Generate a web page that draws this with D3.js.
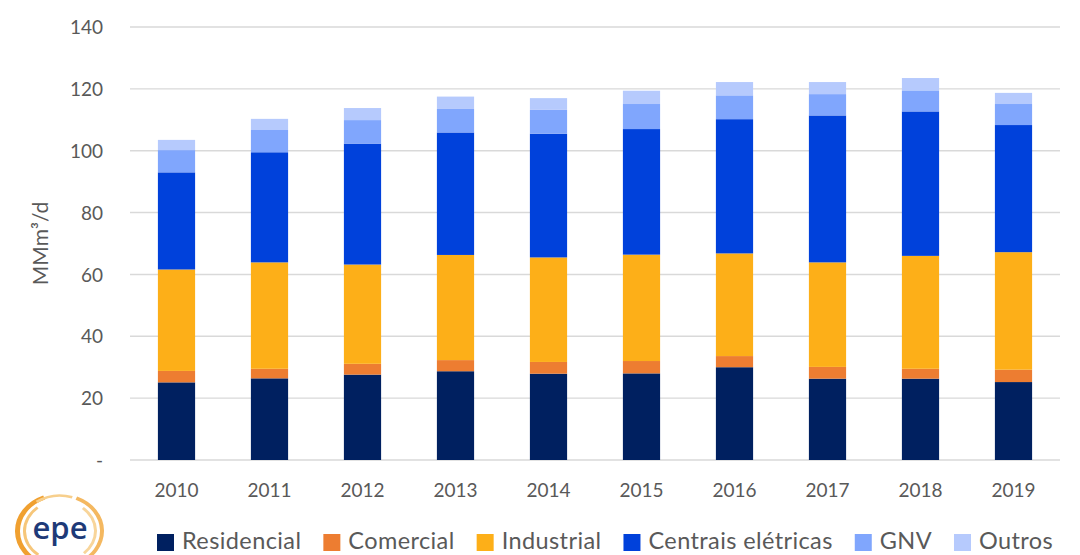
<!DOCTYPE html>
<html>
<head>
<meta charset="utf-8">
<script src="https://cdn.jsdelivr.net/npm/d3@7/dist/d3.min.js"></script>
<style>
  html, body { margin: 0; padding: 0; background: #ffffff; }
  svg { display: block; }
</style>
</head>
<body>
<svg id="chart" width="1080" height="555"></svg>
<script>
// ---------- data ----------
const years = ["2010","2011","2012","2013","2014","2015","2016","2017","2018","2019"];
const seriesNames = ["Residencial","Comercial","Industrial","Centrais elétricas","GNV","Outros"];
const residencial = [25.1, 26.4, 27.6, 28.7, 27.9, 28.0, 30.0, 26.3, 26.3, 25.2];
const comercial   = [ 3.7,  3.1,  3.5,  3.6,  3.8,  4.0,  3.6,  3.8,  3.2,  4.0];
const industrial  = [32.8, 34.4, 32.1, 34.0, 33.8, 34.4, 33.2, 33.8, 36.5, 38.0];
const centrais    = [31.4, 35.6, 39.1, 39.6, 40.0, 40.6, 43.4, 47.5, 46.7, 41.1];
const gnv         = [ 7.2,  7.2,  7.6,  7.6,  7.7,  8.1,  7.7,  6.9,  6.8,  6.8];
const outros      = [ 3.3,  3.6,  3.9,  4.0,  3.8,  4.3,  4.3,  3.9,  4.0,  3.6];
const yTicks = [0, 20, 40, 60, 80, 100, 120, 140];
const yTickLabels = ["-", "20", "40", "60", "80", "100", "120", "140"];
const yTitle = "MMm³/d";
const colors = ["#002060", "#ED7D31", "#FDAF18", "#0041DB", "#80A6FD", "#B6CAFD"];

// ---------- build table ----------
const valueLists = [residencial, comercial, industrial, centrais, gnv, outros];
const table = years.map((yr, i) => {
  const row = { year: yr };
  seriesNames.forEach((s, k) => { row[s] = valueLists[k][i]; });
  return row;
});
const stacked = d3.stack().keys(seriesNames)(table);

// ---------- layout ----------
const svg = d3.select("#chart");
const plotLeft = 130, plotRight = 1060, plotTop = 27, plotBottom = 460;
const font = "Lato, 'Open Sans', sans-serif";
const textColor = "#595959";

const xScale = d3.scaleBand().domain(years).range([plotLeft, plotRight]).paddingInner(0.6).paddingOuter(0.3);
const yScale = d3.scaleLinear().domain([0, 140]).range([plotBottom, plotTop]);

// gridlines
svg.append("g").selectAll("line").data(yTicks).join("line")
  .attr("x1", plotLeft).attr("x2", plotRight)
  .attr("y1", d => yScale(d)).attr("y2", d => yScale(d))
  .attr("stroke", "#D9D9D9").attr("stroke-width", 1.4);

// y axis labels
const yAxis = d3.axisLeft(yScale).tickValues(yTicks)
  .tickFormat((d, i) => yTickLabels[i]).tickSize(0).tickPadding(0);
const yG = svg.append("g").attr("transform", "translate(103,0)").call(yAxis);
yG.select(".domain").remove();
yG.selectAll("text").attr("font-family", font).attr("font-size", 19)
  .attr("fill", textColor).attr("dy", "0.35em");

// y title
svg.append("text")
  .attr("transform", `translate(48,${(plotTop + plotBottom) / 2}) rotate(-90)`)
  .attr("text-anchor", "middle")
  .attr("font-family", font).attr("font-size", 21).attr("fill", textColor)
  .text(yTitle);

// x axis labels
const xAxis = d3.axisBottom(xScale).tickSize(0).tickPadding(0);
const xG = svg.append("g").attr("transform", `translate(0,${plotBottom})`).call(xAxis);
xG.select(".domain").remove();
xG.selectAll("text").attr("font-family", font).attr("font-size", 19)
  .attr("fill", textColor).attr("dy", null).attr("y", 37);

// bars
svg.append("g").selectAll("g").data(stacked).join("g")
  .attr("fill", (d, i) => colors[i])
  .selectAll("rect").data(d => d).join("rect")
  .attr("x", d => xScale(d.data.year))
  .attr("width", xScale.bandwidth())
  .attr("y", d => yScale(d[1]))
  .attr("height", d => yScale(d[0]) - yScale(d[1]));

// legend
const legend = svg.append("g");
let lx = 157;
seriesNames.forEach((s, i) => {
  legend.append("rect").attr("x", lx).attr("y", 534).attr("width", 17).attr("height", 17)
    .attr("fill", colors[i]);
  const t = legend.append("text").attr("x", lx + 25).attr("y", 549)
    .attr("font-family", font).attr("font-size", 23.5).attr("letter-spacing", 0.4)
    .attr("fill", textColor).text(s);
  lx += 25 + t.node().getComputedTextLength() + 22;
});

// epe logo
const logo = svg.append("g").attr("transform", "translate(60,531)");
const arcGen = d3.arc();
const logoArcs = [
  [40, 45, 3.5, 5.9, "#F0A030"],
  [34, 37, 3.8, 5.6, "#F6C67A"],
  [40, 44, 0.4, 2.7, "#F4B860"],
  [34, 37, 0.7, 2.4, "#F8D59A"],
  [40, 43, -0.6, 0.3, "#F7CF8C"]
];
logoArcs.forEach(a => {
  logo.append("path")
    .attr("d", arcGen({ innerRadius: a[0], outerRadius: a[1], startAngle: a[2], endAngle: a[3] }))
    .attr("fill", a[4]).attr("transform", "scale(1,0.85)");
});
logo.append("text").attr("x", 0).attr("y", 8).attr("text-anchor", "middle")
  .attr("font-family", "'Open Sans', sans-serif").attr("font-weight", 600).attr("font-size", 31)
  .attr("fill", "#1E3A78").text("epe");
</script>
</body>
</html>
